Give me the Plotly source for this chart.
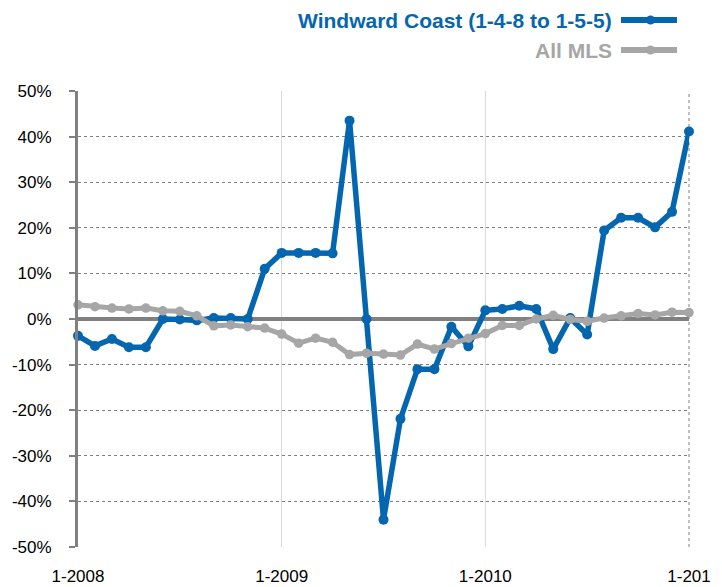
import plotly.graph_objects as go

# Monthly periods, Jan 2008 through Jan 2011
months = [f"{m}-{y}" for y in (2008, 2009, 2010) for m in range(1, 13)] + ["1-2011"]

# Year-over-year change (fraction)
windward = [
    -0.037, -0.059, -0.044, -0.062, -0.062, 0.000, -0.001, -0.003, 0.002, 0.002, 0.000, 0.110,
    0.145, 0.145, 0.145, 0.144, 0.435, 0.000, -0.440, -0.219, -0.110, -0.110, -0.017, -0.060,
    0.019, 0.022, 0.029, 0.022, -0.066, 0.002, -0.034, 0.194, 0.222, 0.222, 0.201, 0.235,
    0.411,
]
all_mls = [
    0.031, 0.027, 0.024, 0.022, 0.024, 0.018, 0.017, 0.007, -0.015, -0.013, -0.017, -0.020,
    -0.033, -0.053, -0.042, -0.051, -0.078, -0.075, -0.077, -0.079, -0.055, -0.066, -0.054, -0.042,
    -0.032, -0.014, -0.014, 0.000, 0.008, -0.001, -0.005, 0.002, 0.007, 0.012, 0.009, 0.015,
    0.014,
]

y_ticks = [-0.5, -0.4, -0.3, -0.2, -0.1, 0.0, 0.1, 0.2, 0.3, 0.4, 0.5]
y_labels = ["-50%", "-40%", "-30%", "-20%", "-10%", "0%", "10%", "20%", "30%", "40%", "50%"]
x_ticks = ["1-2008", "1-2009", "1-2010", "1-2011"]
x_labels = ["1-2008", "1-2009", "1-2010", "1-201"]

BLUE = "#0566B0"
GRAY = "#A6A6A6"
AXIS = "#808080"
FONT = "Liberation Sans, Arial, sans-serif"

W, H = 722, 587
ML, MR, MT, MB = 78, 33, 91, 40
PW, PH = W - ML - MR, H - MT - MB


def px(x):
    return (x - ML) / PW


def py(y):
    return (H - MB - y) / PH


fig = go.Figure()
fig.add_trace(go.Scatter(
    x=months, y=windward, mode="lines+markers", name="Windward Coast (1-4-8 to 1-5-5)",
    line=dict(color=BLUE, width=5.5), marker=dict(color=BLUE, size=10),
    cliponaxis=False, showlegend=False,
))
fig.add_trace(go.Scatter(
    x=months, y=all_mls, mode="lines+markers", name="All MLS",
    line=dict(color=GRAY, width=5), marker=dict(color=GRAY, size=9.5),
    cliponaxis=False, showlegend=False,
))

# right-hand plot border, dotted
fig.add_shape(type="line", xref="paper", yref="paper", x0=1, x1=1, y0=0, y1=1,
              line=dict(color=AXIS, width=1, dash="dot"), layer="below")

# custom legend: label on the left, line sample on the right
legend_rows = [
    ("Windward Coast (1-4-8 to 1-5-5)", BLUE, 20),
    ("All MLS", GRAY, 50),
]
for label, color, yc in legend_rows:
    fig.add_annotation(
        xref="paper", yref="paper", x=px(614), y=py(yc), xanchor="right", yanchor="middle",
        text=f"<b>{label}</b>", showarrow=False,
        font=dict(family=FONT, size=21, color=color),
    )
    fig.add_shape(type="line", xref="paper", yref="paper",
                  x0=px(621), x1=px(677), y0=py(yc), y1=py(yc),
                  line=dict(color=color, width=6))
    fig.add_shape(type="circle", xref="paper", yref="paper",
                  x0=px(646), x1=px(655), y0=py(yc + 4.5), y1=py(yc - 4.5),
                  fillcolor=color, line=dict(color=color, width=0))

fig.update_layout(
    width=W, height=H,
    margin=dict(l=ML, r=MR, t=MT, b=MB, autoexpand=False),
    paper_bgcolor="white", plot_bgcolor="white",
    font=dict(family=FONT, size=17, color="#000000"),
    xaxis=dict(
        type="category", categoryorder="array", categoryarray=months,
        range=[0, len(months) - 1],
        tickmode="array", tickvals=x_ticks, ticktext=x_labels,
        showgrid=True, gridcolor="#D9D9D9", gridwidth=1,
        showline=False, zeroline=False, ticks="", ticklabelstandoff=17,
        tickfont=dict(size=17),
    ),
    yaxis=dict(
        range=[-0.5, 0.5], tickmode="array", tickvals=y_ticks, ticktext=y_labels,
        showgrid=True, gridcolor=AXIS, gridwidth=1, griddash="dot",
        zeroline=True, zerolinecolor=AXIS, zerolinewidth=4,
        showline=True, linecolor=AXIS, linewidth=3,
        ticks="outside", ticklen=6, tickwidth=2, tickcolor=AXIS,
        ticklabelstandoff=14, tickfont=dict(size=17),
    ),
)

fig.write_html("out.html")
